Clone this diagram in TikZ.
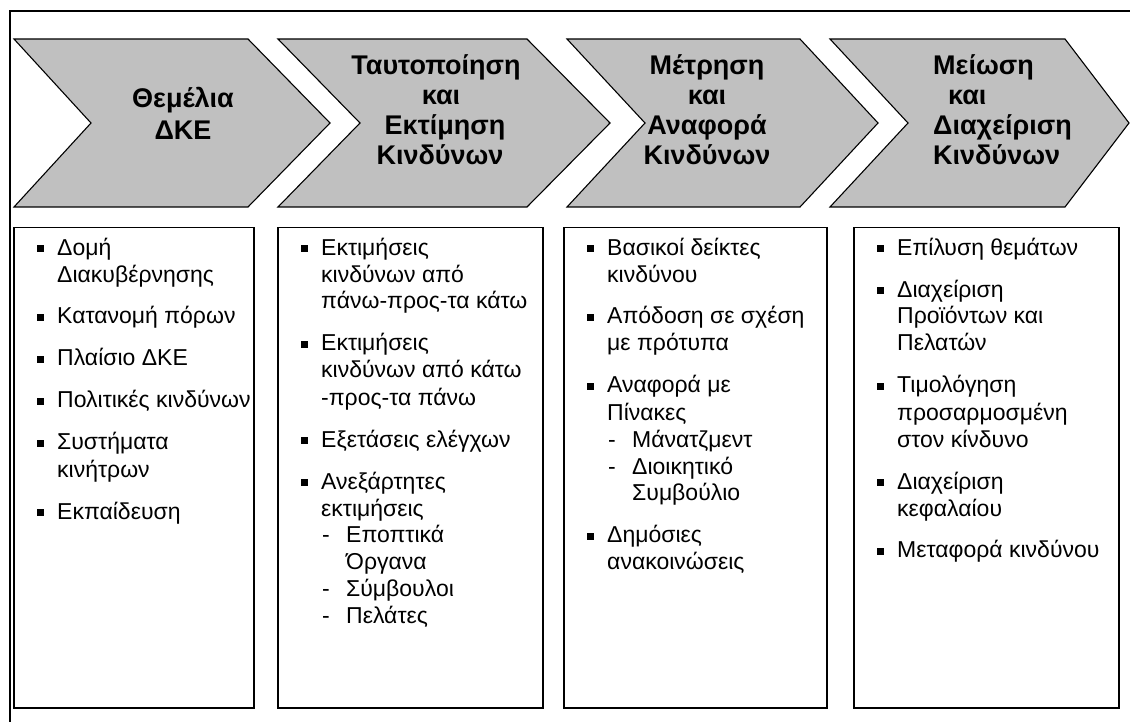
\documentclass[tikz,border=0pt]{standalone}
\usepackage{fontspec}
\setmainfont{Liberation Sans}
\usepackage{array}
\definecolor{chevgrey}{RGB}{192,192,192}
% square bullet, dash sub-item and its continuation line
\newcommand{\sqb}{\rule[2.6pt]{7pt}{7pt}}
\newcommand{\subd}[1]{\makebox[25pt][l]{\hspace{1pt}-}#1}
\newcommand{\subc}[1]{\hspace*{25pt}#1}
\begin{document}
\begin{tikzpicture}[x=1pt,y=-1pt,
  chev/.style={fill=chevgrey,draw=black,line width=1.1pt,line join=miter},
  card/.style={draw=black,line width=1.5pt,fill=white,inner sep=0pt,anchor=north west,
    minimum height=480pt},
  headtext/.style={inner sep=0pt,anchor=base,font=\fontsize{27}{30}\selectfont\bfseries},
  listtext/.style={inner sep=0pt,anchor=base west,font=\fontsize{23}{27}\selectfont}]
\useasboundingbox (0,0) rectangle (1130,722);

% outer frame (top and left edges)
\draw[line width=1.2pt] (10,722) -- (10,11) -- (1130,11);

% process chevrons
\draw[chev] (14,39) -- (248,39) -- (330,123) -- (248,207) -- (14,207) -- (91,123) -- cycle;
\draw[chev] (278,39) -- (527,39) -- (610,123) -- (527,207) -- (278,207) -- (360,123) -- cycle;
\draw[chev] (567,39) -- (800,39) -- (878,123) -- (800,207) -- (567,207) -- (645,123) -- cycle;
\draw[chev] (830,39) -- (1065,39) -- (1129,123) -- (1065,207) -- (830,207) -- (908,123) -- cycle;

% chevron titles
\node[headtext] (t1) at (183,108) {\begin{tabular}[t]{@{}c@{}}Θεμέλια\\[2pt]ΔΚΕ\end{tabular}};
\node[headtext] (t2) at (436,75) {\begin{tabular}[t]{@{}c@{}}Ταυτοποίηση\\\hspace*{10pt}και\\\hspace*{18pt}Εκτίμηση\\\hspace*{8pt}Κινδύνων\end{tabular}};
\node[headtext] (t3) at (707,75) {\begin{tabular}[t]{@{}c@{}}Μέτρηση\\και\\Αναφορά\\Κινδύνων\end{tabular}};
\node[headtext,anchor=base west] (t4) at (933,75) {\begin{tabular}[t]{@{}l@{}}Μείωση\\\hspace*{15pt}και\\Διαχείριση\\Κινδύνων\end{tabular}};

% content cards
\node[card,minimum width=240pt] (b1) at (13,227) {};
\node[card,minimum width=265pt] (b2) at (277,227) {};
\node[card,minimum width=263pt] (b3) at (563,227) {};
\node[card,minimum width=265pt] (b4) at (853,227) {};

\node[listtext] (l1) at (37,255) {\begin{tabular}[t]{@{}p{20pt}@{}l@{}}
\sqb & Δομή\\
     & Διακυβέρνησης\\[15pt]
\sqb & Κατανομή πόρων\\[15pt]
\sqb & Πλαίσιο ΔΚΕ\\[15pt]
\sqb & Πολιτικές κινδύνων\\[15pt]
\sqb & Συστήματα\\
     & κινήτρων\\[15pt]
\sqb & Εκπαίδευση
\end{tabular}};

\node[listtext] (l2) at (301,255) {\begin{tabular}[t]{@{}p{20pt}@{}l@{}}
\sqb & Εκτιμήσεις\\
     & κινδύνων από\\
     & πάνω-προς-τα κάτω\\[15pt]
\sqb & Εκτιμήσεις\\
     & κινδύνων από κάτω\\
     & -προς-τα πάνω\\[15pt]
\sqb & Εξετάσεις ελέγχων\\[15pt]
\sqb & Ανεξάρτητες\\
     & εκτιμήσεις\\
     & \subd{Εποπτικά}\\
     & \subc{Όργανα}\\
     & \subd{Σύμβουλοι}\\
     & \subd{Πελάτες}
\end{tabular}};

\node[listtext] (l3) at (587,255) {\begin{tabular}[t]{@{}p{20pt}@{}l@{}}
\sqb & Βασικοί δείκτες\\
     & κινδύνου\\[15pt]
\sqb & Απόδοση σε σχέση\\
     & με πρότυπα\\[15pt]
\sqb & Αναφορά με\\
     & Πίνακες\\
     & \subd{Μάνατζμεντ}\\
     & \subd{Διοικητικό}\\
     & \subc{Συμβούλιο}\\[15pt]
\sqb & Δημόσιες\\
     & ανακοινώσεις
\end{tabular}};

\node[listtext] (l4) at (877,255) {\begin{tabular}[t]{@{}p{20pt}@{}l@{}}
\sqb & Επίλυση θεμάτων\\[15pt]
\sqb & Διαχείριση\\
     & Προϊόντων και\\
     & Πελατών\\[15pt]
\sqb & Τιμολόγηση\\
     & προσαρμοσμένη\\
     & στον κίνδυνο\\[15pt]
\sqb & Διαχείριση\\
     & κεφαλαίου\\[15pt]
\sqb & Μεταφορά κινδύνου
\end{tabular}};
\end{tikzpicture}
\end{document}
